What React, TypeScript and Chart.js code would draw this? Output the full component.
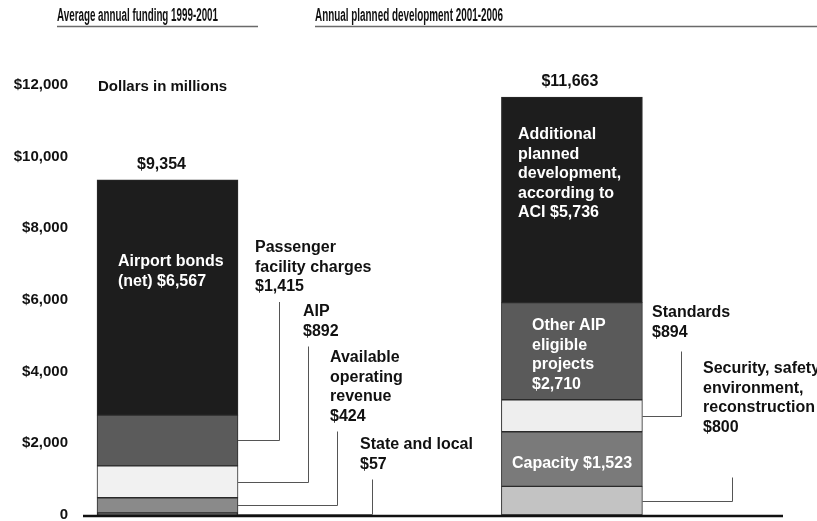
import { useEffect, useRef } from 'react';
import { Chart, registerables } from 'chart.js';

Chart.register(...registerables);

// ---------- data ----------
const panelTitles = ['Average annual funding 1999-2001', 'Annual planned development 2001-2006'];
const barPositions = [0, 1];
const fundingSources = [
  'State and local',
  'Available operating revenue',
  'AIP',
  'Passenger facility charges',
  'Airport bonds (net)',
];
const fundingValues = [57, 424, 892, 1415, 6567];
const developmentTypes = [
  'Security, safety, environment, reconstruction',
  'Capacity',
  'Standards',
  'Other AIP eligible projects',
  'Additional planned development, according to ACI',
];
const developmentValues = [800, 1523, 894, 2710, 5736];
const barTotals = ['$9,354', '$11,663'];
const yTicks = [0, 2000, 4000, 6000, 8000, 10000, 12000];
const yTickLabels = ['0', '$2,000', '$4,000', '$6,000', '$8,000', '$10,000', '$12,000'];
const unitNote = 'Dollars in millions';

// ---------- styles ----------
const fundingColors = ['#3a3a3a', '#8a8a8a', '#f1f1f1', '#5b5b5b', '#1d1d1d'];
const developmentColors = ['#c3c3c3', '#7a7a7a', '#eeeeee', '#5a5a5a', '#1d1d1d'];
const FONT = '"Liberation Sans", Arial, Helvetica, sans-serif';
const LH = 19.5;

type Note = { bar: number; seg: number; lines: string[]; x: number; y: number; lineX?: number; gap?: number; align?: CanvasTextAlign };

const innerLabels: Note[] = [
  { bar: 0, seg: 4, lines: ['Airport bonds', '(net) $6,567'], x: 118, y: 262 },
  { bar: 1, seg: 4, lines: ['Additional', 'planned', 'development,', 'according to', 'ACI $5,736'], x: 518, y: 135 },
  { bar: 1, seg: 3, lines: ['Other AIP', 'eligible', 'projects', '$2,710'], x: 532, y: 326 },
  { bar: 1, seg: 1, lines: ['Capacity $1,523'], x: 572, y: 464, align: 'center' },
];

const callouts: Note[] = [
  { bar: 0, seg: 3, lines: ['Passenger', 'facility charges', '$1,415'], x: 255, y: 248, lineX: 279 },
  { bar: 0, seg: 2, lines: ['AIP', '$892'], x: 303, y: 312, lineX: 308 },
  { bar: 0, seg: 1, lines: ['Available', 'operating', 'revenue', '$424'], x: 330, y: 358, lineX: 337 },
  { bar: 0, seg: 0, lines: ['State and local', '$57'], x: 360, y: 445, lineX: 372 },
  { bar: 1, seg: 2, lines: ['Standards', '$894'], x: 652, y: 313, lineX: 681, gap: 19 },
  { bar: 1, seg: 0, lines: ['Security, safety', 'environment,', 'reconstruction', '$800'], x: 703, y: 369, lineX: 732, gap: 50 },
];

const annotationPlugin = {
  id: 'annotations',
  afterDraw(chart: any) {
    const ctx: CanvasRenderingContext2D = chart.ctx;
    const area = chart.chartArea;
    ctx.save();

    // baseline
    ctx.strokeStyle = '#111';
    ctx.lineWidth = 2.5;
    ctx.beginPath();
    ctx.moveTo(area.left, area.bottom + 1);
    ctx.lineTo(area.right, area.bottom + 1);
    ctx.stroke();

    // panel titles with underline
    const titleLayout = [
      { x: 57, w: 161, lineEnd: 258 },
      { x: 315, w: 188, lineEnd: 817 },
    ];
    ctx.font = `bold 18px ${FONT}`;
    ctx.fillStyle = '#111';
    ctx.textAlign = 'left';
    ctx.textBaseline = 'middle';
    panelTitles.forEach((t, i) => {
      const L = titleLayout[i];
      ctx.fillText(t, L.x, 16, L.w);
      ctx.strokeStyle = '#6a6a6a';
      ctx.lineWidth = 1.5;
      ctx.beginPath();
      ctx.moveTo(L.x, 26.5);
      ctx.lineTo(L.lineEnd, 26.5);
      ctx.stroke();
    });

    // unit note
    ctx.font = `bold 15px ${FONT}`;
    ctx.fillText(unitNote, 98, 87);

    ctx.font = `bold 16px ${FONT}`;
    const topIdx = chart.data.datasets.length - 1;
    // totals
    const totalDx = [-6, -2];
    ctx.textAlign = 'center';
    barTotals.forEach((t, j) => {
      const el = chart.getDatasetMeta(topIdx).data[j];
      ctx.fillText(t, el.x + totalDx[j], el.y - 15);
    });

    // inner labels
    ctx.fillStyle = '#ffffff';
    innerLabels.forEach((n) => {
      ctx.textAlign = n.align || 'left';
      n.lines.forEach((s, k) => ctx.fillText(s, n.x, n.y + k * LH));
    });

    // callouts
    callouts.forEach((n) => {
      ctx.fillStyle = '#111';
      ctx.textAlign = 'left';
      n.lines.forEach((s, k) => ctx.fillText(s, n.x, n.y + k * LH));
      const el = chart.getDatasetMeta(n.seg).data[n.bar];
      const midY = (el.y + el.base) / 2;
      const right = el.x + el.width / 2;
      const top = n.y + (n.lines.length - 1) * LH + (n.gap ?? 15);
      ctx.strokeStyle = '#555';
      ctx.lineWidth = 1;
      ctx.beginPath();
      ctx.moveTo(n.lineX! + 0.5, top);
      ctx.lineTo(n.lineX! + 0.5, Math.round(midY) + 0.5);
      ctx.lineTo(right, Math.round(midY) + 0.5);
      ctx.stroke();
    });

    ctx.restore();
  },
};

export default function App() {
  const ref = useRef<HTMLCanvasElement>(null);
  useEffect(() => {
    const datasets = fundingValues.map((v, i) => ({
      label: `${fundingSources[i]} / ${developmentTypes[i]}`,
      data: [
        { x: barPositions[0], y: v },
        { x: barPositions[1], y: developmentValues[i] },
      ],
      backgroundColor: [fundingColors[i], developmentColors[i]],
      borderColor: '#2a2a2a',
      borderWidth: 1,
      borderSkipped: false,
      barThickness: 141,
      stack: 'total',
    }));

    const chart = new Chart(ref.current!, {
      type: 'bar',
      data: { datasets } as any,
      plugins: [annotationPlugin],
      options: {
        animation: false,
        responsive: false,
        devicePixelRatio: 1,
        layout: { padding: { left: 0, right: 34, top: 85, bottom: 6 } },
        plugins: { legend: { display: false }, tooltip: { enabled: false } },
        scales: {
          x: {
            type: 'linear',
            display: false,
            offset: false,
            min: -0.209,
            max: 1.522,
          },
          y: {
            type: 'linear',
            stacked: true,
            min: 0,
            max: 12000,
            afterBuildTicks: (s: any) => { s.ticks = yTicks.map((v) => ({ value: v })); },
            ticks: {
              padding: 15,
              color: '#111',
              font: { family: FONT, size: 15, weight: 'bold' },
              callback: (v: any) => yTickLabels[yTicks.indexOf(Number(v))] ?? '',
            },
            grid: { display: false, drawTicks: false },
            border: { display: false },
            afterFit: (s: any) => { s.width = 83; s.paddingTop = 0; s.paddingBottom = 0; },
          },
        },
      } as any,
    });
    return () => chart.destroy();
  }, []);

  return (
    <div style={{ position: 'fixed', left: 0, top: 0, width: 817, height: 521, background: '#fff' }}>
      <canvas ref={ref} width={817} height={521} style={{ display: 'block' }} />
    </div>
  );
}
